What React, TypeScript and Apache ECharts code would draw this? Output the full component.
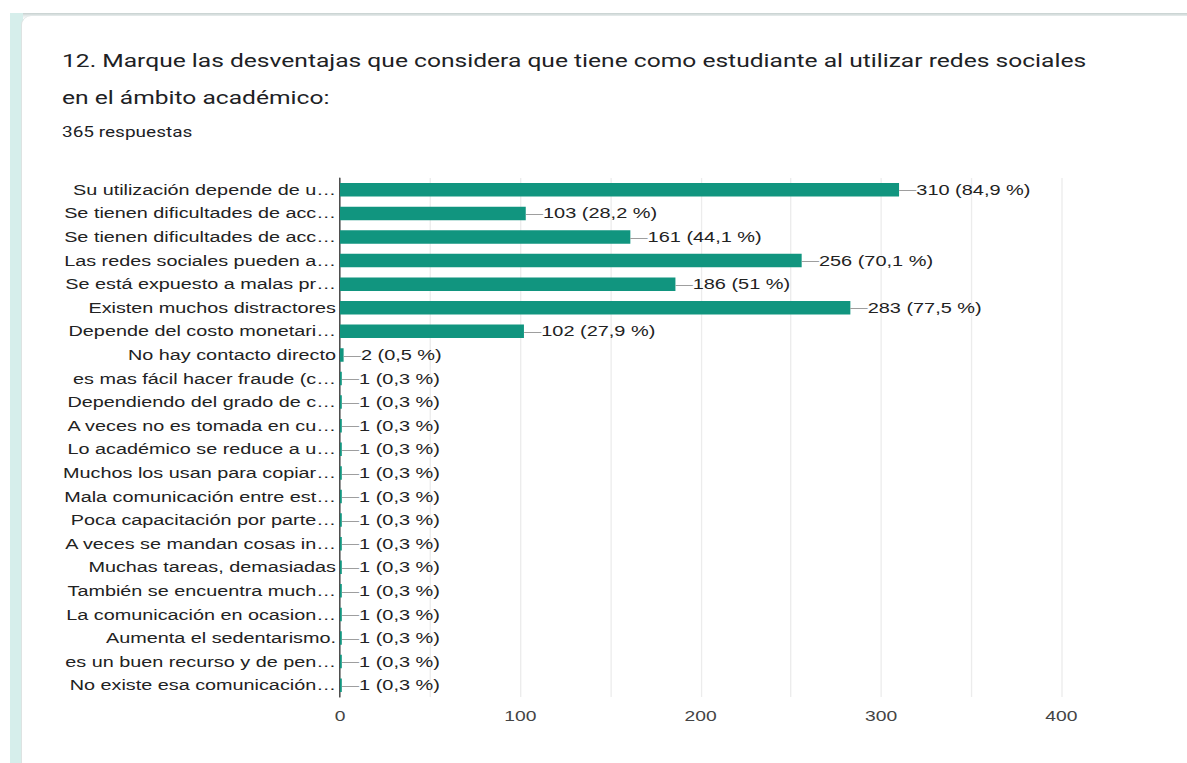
import React, { useEffect, useRef } from "react";
import * as echarts from "echarts";

const categories = [
  "Su utilización depende de u…",
  "Se tienen dificultades de acc…",
  "Se tienen dificultades de acc…",
  "Las redes sociales pueden a…",
  "Se está expuesto a malas pr…",
  "Existen muchos distractores",
  "Depende del costo monetari…",
  "No hay contacto directo",
  "es mas fácil hacer fraude (c…",
  "Dependiendo del grado de c…",
  "A veces no es tomada en cu…",
  "Lo académico se reduce a u…",
  "Muchos los usan para copiar…",
  "Mala comunicación entre est…",
  "Poca capacitación por parte…",
  "A veces se mandan cosas in…",
  "Muchas tareas, demasiadas",
  "También se encuentra much…",
  "La comunicación en ocasion…",
  "Aumenta el sedentarismo.",
  "es un buen recurso y de pen…",
  "No existe esa comunicación…",
];

const counts = [310, 103, 161, 256, 186, 283, 102, 2, 1, 1, 1, 1, 1, 1, 1, 1, 1, 1, 1, 1, 1, 1];

const percents = [
  "84,9", "28,2", "44,1", "70,1", "51", "77,5", "27,9", "0,5",
  "0,3", "0,3", "0,3", "0,3", "0,3", "0,3", "0,3", "0,3", "0,3", "0,3", "0,3", "0,3", "0,3", "0,3",
];

const xTicks = [0, 100, 200, 300, 400];

const titleText =
  "12. Marque las desventajas que considera que tiene como estudiante al utilizar redes sociales\nen el ámbito académico:";
const subText = "365 respuestas";

const S = 1.33;
const W = 1187 / S;
const H = 763;
const FONT = "'Liberation Sans', Arial, sans-serif";

export default function App() {
  const ref = useRef<HTMLDivElement>(null);

  useEffect(() => {
    if (!ref.current) return;
    const chart = echarts.init(ref.current, undefined, { renderer: "svg" });
    chart.setOption({
      animation: false,
      backgroundColor: "transparent",
      title: {
        text: titleText,
        subtext: subText,
        left: 62 / S,
        top: 42,
        padding: 0,
        itemGap: 6,
        textStyle: {
          fontFamily: "Roboto, 'Open Sans', sans-serif",
          fontSize: 18.5,
          fontWeight: 400,
          color: "#202124",
          lineHeight: 37,
        },
        subtextStyle: {
          fontFamily: "Roboto, 'Open Sans', sans-serif",
          fontSize: 14.3,
          color: "#202124",
          lineHeight: 20,
        },
      },
      grid: {
        left: 340 / S,
        right: W - 1062 / S,
        top: 178,
        bottom: H - 697,
        containLabel: false,
      },
      xAxis: {
        type: "value",
        min: 0,
        max: 400,
        interval: 50,
        axisLine: { show: false },
        axisTick: { show: false },
        splitLine: { show: true, lineStyle: { color: "#ececec", width: 1 } },
        axisLabel: {
          margin: 12,
          fontFamily: FONT,
          fontSize: 14.5,
          color: "#444",
          formatter: (v: number) => (xTicks.includes(v) ? String(v) : ""),
        },
      },
      yAxis: {
        type: "category",
        data: categories,
        inverse: true,
        axisLine: { show: true, lineStyle: { color: "#333", width: 1 } },
        axisTick: { show: false },
        splitLine: { show: false },
        axisLabel: {
          margin: 3,
          fontFamily: FONT,
          fontSize: 14.9,
          color: "#222",
          interval: 0,
        },
      },
      series: [
        {
          type: "bar",
          data: counts,
          barWidth: 13.5,
          itemStyle: { color: "#11957f" },
          label: {
            show: true,
            position: "right",
            distance: 0,
            fontFamily: FONT,
            formatter: (p: any) => `{d|—}{v|${counts[p.dataIndex]} (${percents[p.dataIndex]} %)}`,
            rich: {
              d: { fontFamily: FONT, fontSize: 13, color: "#9e9e9e" },
              v: { fontFamily: FONT, fontSize: 15, color: "#222" },
            },
          },
        },
      ],
    });
    return () => chart.dispose();
  }, []);

  return (
    <div
      style={{
        position: "fixed",
        left: 0,
        top: 0,
        width: 1187,
        height: 763,
        overflow: "hidden",
        background: "#fff",
      }}
    >
      <div
        style={{
          position: "absolute",
          left: 10,
          top: 13,
          right: 0,
          height: 5,
          background: "linear-gradient(#c6d0cf, #e8eded 60%, #f8f9f9)",
        }}
      />
      <div
        style={{
          position: "absolute",
          left: 10,
          top: 13,
          width: 13,
          bottom: 0,
          background: "#d6eeeb",
        }}
      />
      <div
        style={{
          position: "absolute",
          left: 22,
          top: 16,
          right: 0,
          bottom: 0,
          background: "#fff",
          borderTopLeftRadius: 9,
          boxShadow: "-1px 0 0 #dde3e2",
        }}
      />
      <div
        ref={ref}
        style={{
          position: "absolute",
          left: 0,
          top: 0,
          width: W,
          height: H,
          transform: `scaleX(${S})`,
          transformOrigin: "0 0",
        }}
      />
    </div>
  );
}
